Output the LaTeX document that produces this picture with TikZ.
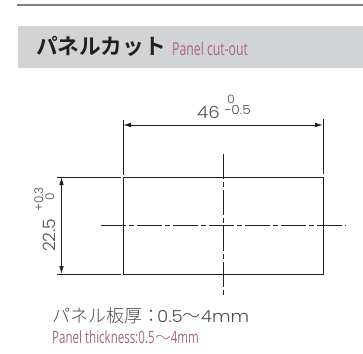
\documentclass[tikz,border=0pt]{standalone}
\usepackage{fontspec}
\setmainfont{Liberation Sans}
\newfontfamily\jpbold{Noto Sans CJK JP Bold}
\newfontfamily\jplight{Noto Sans CJK JP Light}
\newfontfamily\cond[FakeStretch=0.68]{Open Sans}
\newfontfamily\wide[FakeStretch=1.1]{Poppins Light}
\newfontfamily\widerot{Poppins Light}
\definecolor{band}{HTML}{D1D3D4}
\definecolor{rose}{HTML}{A8677F}
\definecolor{inkk}{HTML}{231F20}
\definecolor{greyt}{HTML}{4D4D4F}
\usetikzlibrary{arrows.meta}
\tikzset{
  part/.style={draw=inkk,line width=0.8pt},
  axisline/.style={draw=inkk,line width=0.7pt,dash pattern=on 25pt off 3pt on 5pt off 3pt},
  dimline/.style={draw=inkk,line width=0.8pt,{Latex[length=8pt,width=4.5pt]}-{Latex[length=8pt,width=4.5pt]}},
  lbl/.style={inner sep=0pt,text=greyt},
}
\begin{document}
\begin{tikzpicture}[x=1pt,y=-1pt]
\useasboundingbox (0,0) rectangle (363,353);
\fill[white] (0,0) rectangle (363,353);
\draw[draw=gray,line width=1.2pt] (17,5) -- (363,5);
\fill[band] (18,26) rectangle (363,68);
\node[anchor=west,inner sep=0pt,text=inkk] (title) at (36,46) {\jpbold\fontsize{21.7}{24}\selectfont パネルカット};
\node[anchor=base west,inner sep=0pt,text=rose] (titleen) at (172,55) {\cond\fontsize{18}{20}\selectfont Panel cut-out};
% rectangle
\coordinate (tl) at (123,177); \coordinate (tr) at (323,177);
\coordinate (bl) at (123,274); \coordinate (br) at (323,274);
\draw[part] (tl) rectangle (br);
% extension lines
\coordinate (extla) at (123,120); \coordinate (extlb) at (123,174.5);
\coordinate (extra) at (323,119); \coordinate (extrb) at (323,174);
\draw[part] (extla) -- (extlb);
\draw[part] (extra) -- (extrb);
\coordinate (exta) at (57,177); \coordinate (extb) at (121,177);
\coordinate (extc) at (57,274); \coordinate (extd) at (121,274);
\draw[part] (exta) -- (extb);
\draw[part] (extc) -- (extd);
% dimensions
\coordinate (dla) at (123,125); \coordinate (dlb) at (323,125);
\draw[dimline] (dla) -- (dlb);
\coordinate (dva) at (61.5,177); \coordinate (dvb) at (61.5,274);
\draw[dimline] (dva) -- (dvb);
% axes
\coordinate (ha) at (101,225.5); \coordinate (hb) at (346,225.5);
\draw[axisline] (ha) -- (hb);
\coordinate (va) at (223,154); \coordinate (vb) at (223,297);
\draw[axisline] (va) -- (vb);
% labels
\node[lbl,anchor=base west] (w) at (197,118) {\wide\fontsize{16.5}{18}\selectfont 46};
\node[lbl,anchor=base] (wu) at (231,103) {\wide\fontsize{11.5}{13}\selectfont 0};
\node[lbl,anchor=base west] (wl) at (224,114) {\wide\fontsize{12.5}{14}\selectfont −0.5};
\node[lbl,anchor=base west,rotate=90] (h) at (55,252) {\widerot\fontsize{17}{19}\selectfont 22.5};
\node[lbl,anchor=base west,rotate=90] (hu) at (43,212) {\widerot\fontsize{12}{14}\selectfont +0.3};
\node[lbl,anchor=base,rotate=90] (hl) at (54,197) {\widerot\fontsize{12}{14}\selectfont 0};
\node[lbl,anchor=base west] (th) at (52,322) {\jplight\fontsize{18}{20}\selectfont パネル板厚：\kern-3pt\wide\fontsize{16.5}{18}\selectfont 0.5\jplight\fontsize{18}{20}\selectfont 〜\wide\fontsize{16.5}{18}\selectfont 4mm};
\node[anchor=base west,inner sep=0pt,text=rose] (then) at (52,343) {\cond\fontsize{17}{19}\selectfont Panel thickness:0.5\jplight\fontsize{16}{18}\selectfont 〜\cond\fontsize{17}{19}\selectfont 4mm};
\end{tikzpicture}
\end{document}
